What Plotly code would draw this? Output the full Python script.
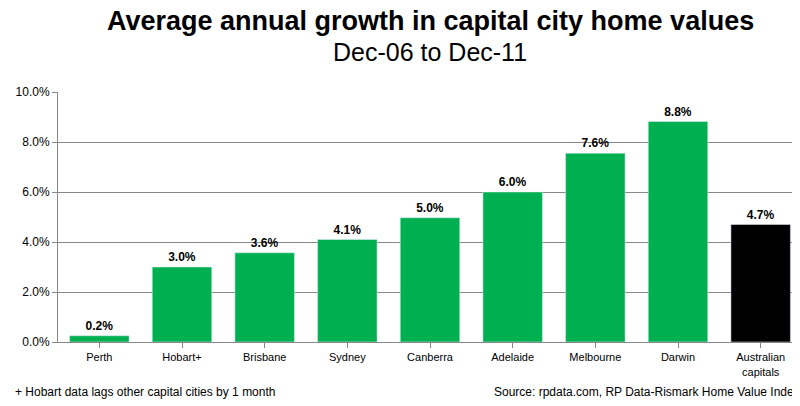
import plotly.graph_objects as go


class Plotter:

    def __init__(self):
        pass

    def growth(self, cities, values, labels, SAVE=True):

        colors = ['#00B050'] * (len(cities) - 1) + ['#000000']  # last bar = capitals

        fig = go.Figure()
        fig.add_trace(go.Bar(
            x=cities,
            y=values,
            marker=dict(color=colors),
            width=0.72,
            text=labels,
            textposition='outside',
            textfont=dict(family='Arial', size=12, color='black', weight='bold'),
            cliponaxis=False,
        ))

        # Clean up
        fig.update_layout(
            width=800, height=406,
            plot_bgcolor='white', paper_bgcolor='white',
            margin=dict(l=50, r=6, t=84, b=72),
            showlegend=False,
            font=dict(family='Arial', color='black'),
            annotations=[
                dict(text='<b>Average annual growth in capital city home values</b>', x=0.5, y=1.0,
                     xref='paper', yref='paper', yanchor='top', showarrow=False,
                     font=dict(size=27), yshift=88, xanchor='center'),
                dict(text='Dec-06 to Dec-11', x=0.5, y=1.0, xref='paper', yref='paper',
                     yanchor='top', yshift=56, showarrow=False, font=dict(size=25)),
                dict(text='+ Hobart data lags other capital cities by 1 month', x=-0.06, y=-0.2,
                     xref='paper', yref='paper', xanchor='left', yanchor='middle',
                     showarrow=False, font=dict(size=12)),
                dict(text='Source: rpdata.com, RP Data-Rismark Home Value Index', x=1.0, y=-0.2,
                     xref='paper', yref='paper', xanchor='right', yanchor='middle',
                     showarrow=False, font=dict(size=12)),
            ],
        )
        fig.update_xaxes(showline=True, linecolor='#888888', ticks='outside', tickcolor='#888888',
                         ticklen=5, tickfont=dict(size=11))
        fig.update_yaxes(range=[0, 0.1], tickformat='.1%', dtick=0.02, showgrid=True,
                         gridcolor='#888888', showline=True, linecolor='#888888',
                         ticks='outside', tickcolor='#888888', tickfont=dict(size=12),
                         zeroline=False)

        if SAVE:
            fig.write_html("out.html")


if __name__ == "__main__":
    cities = ['Perth', 'Hobart+', 'Brisbane', 'Sydney', 'Canberra', 'Adelaide',
              'Melbourne', 'Darwin', 'Australian<br>capitals']
    values = [0.0025, 0.030, 0.0357, 0.041, 0.0497, 0.060, 0.0755, 0.0882, 0.047]
    labels = ['0.2%', '3.0%', '3.6%', '4.1%', '5.0%', '6.0%', '7.6%', '8.8%', '4.7%']
    plotter = Plotter()
    plotter.growth(cities, values, labels)
